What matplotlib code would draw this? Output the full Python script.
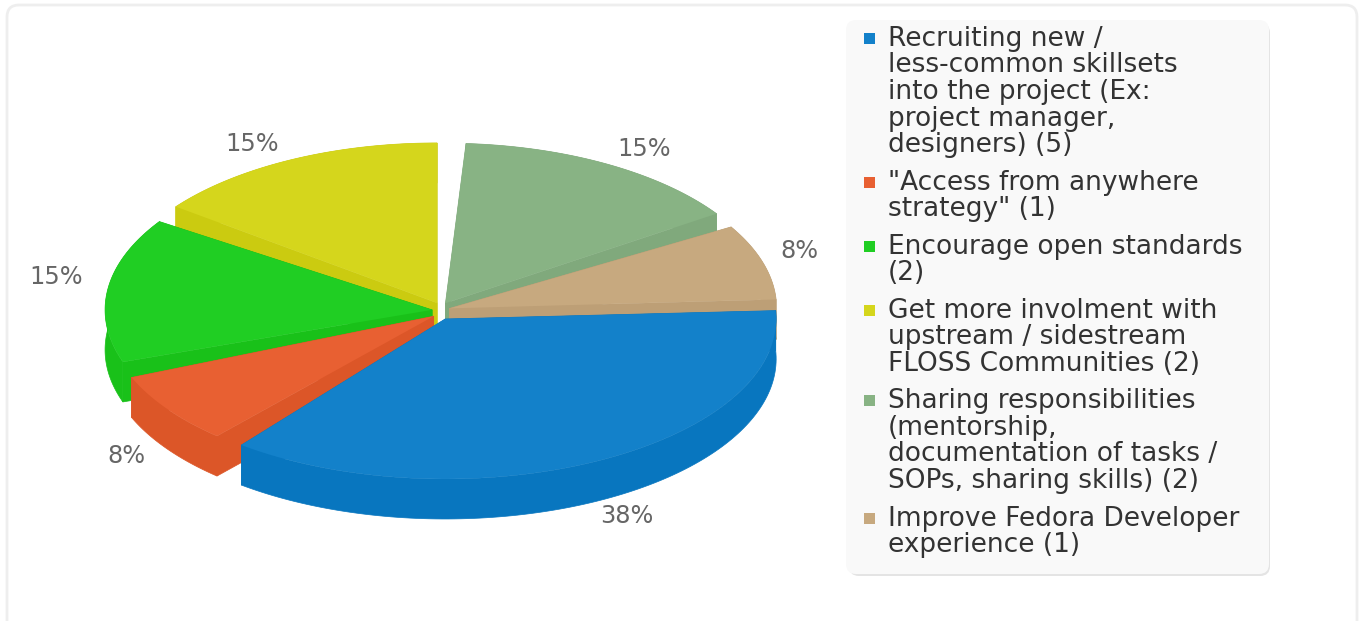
import matplotlib
matplotlib.use("Agg")
import matplotlib.pyplot as plt
import numpy as np
from matplotlib.patches import FancyBboxPatch, Rectangle

counts = [5, 1, 2, 2, 2, 1]
percent_labels = ["38%", "8%", "15%", "15%", "15%", "8%"]
legend_labels = [
    "Recruiting new /\nless-common skillsets\ninto the project (Ex:\nproject manager,\ndesigners) (5)",
    '"Access from anywhere\nstrategy" (1)',
    "Encourage open standards\n(2)",
    "Get more involment with\nupstream / sidestream\nFLOSS Communities (2)",
    "Sharing responsibilities\n(mentorship,\ndocumentation of tasks /\nSOPs, sharing skills) (2)",
    "Improve Fedora Developer\nexperience (1)",
]
top_colors = ["#1381ca", "#e86032", "#20ce23", "#d5d61c", "#88b384", "#c7a97f"]
side_colors = ["#0876bf", "#dc5628", "#19c119", "#cbcb10", "#80a97c", "#bd9f76"]

# layout, all in pixels of the 1360x621 picture
cx, cy = 441, 311
rim_rx = [331, 327, 327, 327, 327, 327]
ry = 160
depth = 40
explode = 9
# the renderer's projection squeezes the slices a bit, degrees per slice
start_skew = [-3, -6.96, -5.15, -4.54, -3.32, -2.91]
end_skew = [-10.46, -8.65, -8.04, -6.92, -6.31, -3.2]
label_xy = [(627, 516), (126, 456), (56, 277), (252, 144), (644, 149), (799, 251)]
draw_order = [3, 4, 5, 2, 1, 0]


def draw_slice(ax, i, edges):
    t0 = edges[i] + start_skew[i]
    t1 = edges[i + 1] + end_skew[i]
    mid = np.radians((t0 + t1) / 2)
    tip_x = cx + explode * np.cos(mid)
    tip_y = cy + explode * np.sin(mid)
    t = np.radians(np.linspace(t0, t1, 120))
    arc_x = tip_x + rim_rx[i] * np.cos(t)
    arc_y = tip_y + ry * np.sin(t)

    # sides first, the top face goes over them
    side = dict(color=side_colors[i], lw=0.5)
    ax.fill(np.r_[arc_x, arc_x[::-1]], np.r_[arc_y, arc_y[::-1] + depth], **side)
    for k in (0, -1):
        ax.fill(
            [tip_x, arc_x[k], arc_x[k], tip_x],
            [tip_y, arc_y[k], arc_y[k] + depth, tip_y + depth],
            **side,
        )
    ax.fill(np.r_[tip_x, arc_x], np.r_[tip_y, arc_y], color=top_colors[i], lw=0)


def draw_legend(ax):
    ax.add_patch(FancyBboxPatch((849, 23), 421, 553, boxstyle="round,pad=0,rounding_size=10",
                                fc="#e4e4e4", ec="none"))
    ax.add_patch(FancyBboxPatch((846, 20), 423, 554, boxstyle="round,pad=0,rounding_size=10",
                                fc="#f9f9f9", ec="none"))
    y = 46
    for label, color in zip(legend_labels, top_colors):
        ax.add_patch(Rectangle((864, y - 13), 11, 11, fc=color, ec="none"))
        for line in label.split("\n"):
            ax.text(888, y, line, fontsize=19, color="#333333", va="baseline", ha="left")
            y += 26.5
        y += 11.1


def main():
    fig = plt.figure(figsize=(13.6, 6.21), dpi=100)
    ax = fig.add_axes([0, 0, 1, 1])
    ax.set_xlim(0, 1360)
    ax.set_ylim(621, 0)
    ax.axis("off")

    ax.add_patch(FancyBboxPatch((7, 5), 1350, 640, boxstyle="round,pad=0,rounding_size=12",
                                fc="white", ec="#eeeeee", lw=2))

    edges = np.r_[0, np.cumsum(counts)] / sum(counts) * 360
    for i in draw_order:
        draw_slice(ax, i, edges)

    for text, (x, y) in zip(percent_labels, label_xy):
        ax.text(x, y, text, fontsize=17.3, color="#666666", ha="center", va="center")

    draw_legend(ax)
    fig.savefig("out.png", dpi=100)


if __name__ == "__main__":
    main()
